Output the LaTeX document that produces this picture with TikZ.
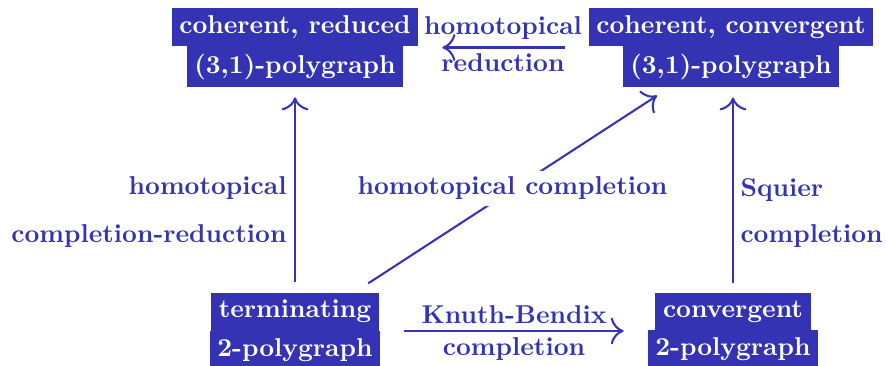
\documentclass[tikz,border=0pt]{standalone}
\usetikzlibrary{arrows.meta}
\definecolor{mainblue}{RGB}{51,51,179}
\newcommand\twoline[2]{{\def\arraystretch{0}\begin{tabular}{@{}c@{}}\colorbox{mainblue}{#1}\\\colorbox{mainblue}{#2}\end{tabular}}}
\begin{document}
\begin{tikzpicture}[x=0.3876pt,y=-0.3876pt,
  poly/.style={inner sep=0pt, outer sep=0pt, text=white, font=\bfseries},
  lab/.style={inner sep=0pt, text=mainblue, font=\bfseries},
  arr/.style={draw=mainblue, line width=0.8pt, -{Computer Modern Rightarrow[length=5pt,width=10.4pt]}}]
\useasboundingbox (0,0) rectangle (886,366);
\node[poly] (TL) at (295,47.5) {\twoline{coherent, reduced}{(3,1)-polygraph}};
\node[poly] (TR) at (731,47.5) {\twoline{coherent, convergent}{(3,1)-polygraph}};
\node[poly] (BL) at (295,331) {\twoline{terminating}{2-polygraph}};
\node[poly] (BR) at (733,331) {\twoline{convergent}{2-polygraph}};
\draw[arr, shorten <=9.3pt, shorten >=9.3pt] (TR.west) -- (TL.east);
\draw[arr, shorten <=9.3pt, shorten >=9.3pt] (BL.east) -- (BR.west);
\draw[arr, shorten <=3.9pt, shorten >=3.9pt] (BL.north) -- (TL.south);
\draw[arr, shorten <=3.9pt, shorten >=3.9pt] (BR.north) -- (BR.north |- TR.south);
\draw[arr, shorten <=6.5pt, shorten >=5.8pt] (BL) -- (TR);
\node[lab, anchor=base] (l1) at (503,35) {homotopical};
\node[lab, anchor=base] (l2) at (503,72) {reduction};
\node[lab, anchor=base] (l3) at (514,323.3) {Knuth-Bendix};
\node[lab, anchor=base] (l4) at (514,355) {completion};
\node[lab, anchor=base east] (l5) at (287,195) {homotopical};
\node[lab, anchor=base east] (l6) at (287,243) {completion-reduction};
\node[lab, anchor=base west] (l7) at (740,197) {Squier};
\node[lab, anchor=base west] (l8) at (740,243) {completion};
\node[lab, anchor=base, fill=white, inner sep=2.4pt] (l9) at (512.5,195) {homotopical completion};
\end{tikzpicture}
\end{document}
